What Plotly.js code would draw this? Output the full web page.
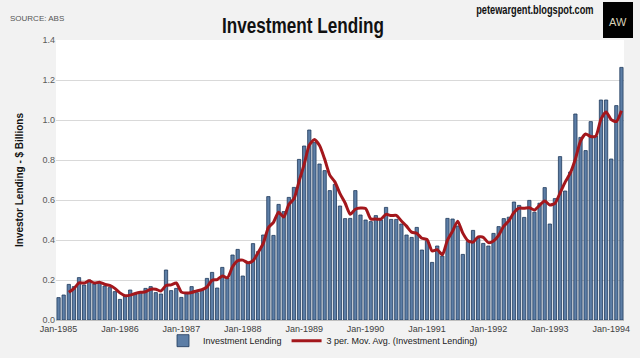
<!DOCTYPE html>
<html>
<head>
<meta charset="utf-8">
<script src="https://cdn.plot.ly/plotly-3.0.1.min.js"></script>
<style>html,body{margin:0;padding:0;background:#f2f2f2;}#chart{width:640px;height:358px;}</style>
</head>
<body>
<div id="chart"></div>
<script>
// Monthly investment lending ($ billions), Jan-1985 .. Mar-1994
const monthNames = ['Jan','Feb','Mar','Apr','May','Jun','Jul','Aug','Sep','Oct','Nov','Dec'];
const startYear = 1985;
const lending = [
  0.112,0.125,0.178,0.167,0.212,0.175,0.200,0.180,0.187,0.170,0.162,0.142, // 1985
  0.103,0.120,0.150,0.128,0.137,0.158,0.167,0.137,0.130,0.250,0.147,0.158, // 1986
  0.113,0.133,0.167,0.137,0.150,0.208,0.238,0.160,0.263,0.210,0.325,0.353, // 1987
  0.220,0.287,0.382,0.342,0.425,0.617,0.423,0.578,0.542,0.613,0.663,0.803, // 1988
  0.870,0.950,0.887,0.780,0.747,0.647,0.678,0.570,0.507,0.508,0.647,0.525, // 1989
  0.500,0.492,0.522,0.500,0.563,0.503,0.503,0.480,0.425,0.413,0.463,0.350, // 1990
  0.397,0.288,0.370,0.320,0.508,0.505,0.470,0.328,0.392,0.448,0.408,0.383, // 1991
  0.370,0.433,0.467,0.507,0.514,0.590,0.573,0.513,0.598,0.539,0.584,0.662, // 1992
  0.480,0.607,0.817,0.645,0.740,1.030,0.913,0.847,0.992,0.920,1.100,1.100, // 1993
  0.805,1.072,1.263                                                         // 1994
];
const tickYears = [1985,1986,1987,1988,1989,1990,1991,1992,1993,1994];
const tickLabels = ['Jan-1985','Jan-1986','Jan-1987','Jan-1988','Jan-1989','Jan-1990','Jan-1991','Jan-1992','Jan-1993','Jan-1994'];
const maPeriod = 3;

// category labels for each month
const categories = lending.map((v,i)=> monthNames[i%12] + '-' + (startYear + Math.floor(i/12)));
// Excel-style 3 period moving-average trendline of the series
const movAvg = lending.map((v,i)=>{
  if (i < maPeriod-1) return null;
  let s = 0; for (let k=i-maPeriod+1;k<=i;k++) s += lending[k];
  return s/maPeriod;
});

const fontN = "'Liberation Sans Narrow','Arial Narrow','Liberation Sans',Arial,sans-serif";
const L = 56, R = 16, T = 40, B = 38, W = 640, H = 358;
const pw = W-L-R, ph = H-T-B;
const px = x => (x-L)/pw;
const py = y => (H-B-y)/ph;

const traces = [
  {type:'bar', name:'Investment Lending', x:categories, y:lending,
   marker:{color:'#5d7ea6', line:{color:'#1f3a5c', width:0.8}}},
  {type:'scatter', mode:'lines', name:'3 per. Mov. Avg. (Investment Lending)', x:categories, y:movAvg,
   line:{color:'#a3171c', width:3, shape:'spline', smoothing:0.6}, connectgaps:false}
];

const layout = {
  width:W, height:H,
  paper_bgcolor:'#f2f2f2', plot_bgcolor:'#ffffff',
  margin:{l:L, r:R, t:T, b:B, autoexpand:false},
  title:{text:'<b>Investment Lending</b>', font:{family:fontN, size:22, color:'#111111'},
         x:303/W, xanchor:'center', xref:'container', y:1-25/H, yanchor:'middle', yref:'container'},
  showlegend:true,
  legend:{orientation:'h', x:px(323), xanchor:'center', y:-0.022, yanchor:'top',
          font:{family:fontN, size:9, color:'#222222'}, bgcolor:'rgba(0,0,0,0)', itemwidth:30, traceorder:'normal'},
  bargap:0.36,
  xaxis:{type:'category', range:[-0.5, lending.length-0.5],
         tickvals:tickYears.map(y=>'Jan-'+y), ticktext:tickLabels, tickangle:0,
         tickfont:{family:fontN, size:9, color:'#404040'}, ticks:'', showgrid:false,
         showline:true, linecolor:'#bfbfbf', linewidth:1, automargin:false},
  yaxis:{range:[0,1.4], tick0:0, dtick:0.2, tickformat:'.1f', gridcolor:'#d9d9d9', gridwidth:1,
         zeroline:false, showline:false, ticks:'', automargin:false,
         tickfont:{family:fontN, size:9, color:'#595959'},
         title:{text:'<b>Investor Lending - $ Billions</b>', font:{family:fontN, size:10, color:'#111111'}, standoff:16}},
  shapes:[
    {type:'rect', xref:'paper', yref:'paper', x0:px(603), x1:px(633), y0:py(38), y1:py(2),
     fillcolor:'#000000', line:{width:0}, layer:'above'}
  ],
  annotations:[
    {text:'SOURCE: ABS', xref:'paper', yref:'paper', x:px(8), y:py(18), xanchor:'left', yanchor:'middle',
     showarrow:false, font:{family:fontN, size:8, color:'#555555'}},
    {text:'<b>petewargent.blogspot.com</b>', xref:'paper', yref:'paper', x:px(596), y:py(10), xanchor:'right', yanchor:'middle',
     showarrow:false, font:{family:fontN, size:12, color:'#111111'}},
    {text:'AW', xref:'paper', yref:'paper', x:px(618), y:py(22), xanchor:'center', yanchor:'middle',
     showarrow:false, font:{family:'Liberation Sans, Arial, sans-serif', size:11, color:'#d8d2b8'}}
  ]
};

// narrow the condensed-looking texts horizontally, keeping an anchor point fixed
function squeeze(el, k, anchor){
  if (!el) return;
  const bb = el.getBBox();
  const ax = anchor==='right' ? bb.x+bb.width : bb.x+bb.width/2;
  const prev = el.getAttribute('transform') || '';
  el.setAttribute('transform', prev + ` translate(${ax},0) scale(${k},1) translate(${-ax},0)`);
}

Plotly.newPlot('chart', traces, layout, {displayModeBar:false, staticPlot:true}).then(gd=>{
  squeeze(gd.querySelector('.gtitle'), 0.78, 'center');
  gd.querySelectorAll('.annotation-text').forEach(t=>{
    if (t.textContent.indexOf('petewargent')>=0) squeeze(t, 0.77, 'right');
  });
});
</script>
</body>
</html>
